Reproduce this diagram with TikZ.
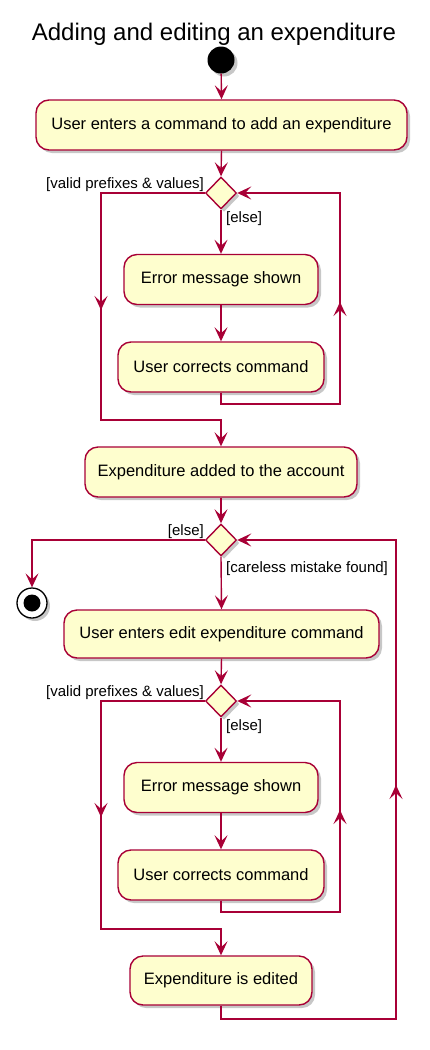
\documentclass[tikz,border=0pt]{standalone}
\usepackage{fontspec}
\setmainfont{Liberation Sans}
\usetikzlibrary{arrows.meta,shapes.geometric,shadows}
\definecolor{pumlred}{HTML}{A80036}
\definecolor{pumlfill}{HTML}{FEFECE}
\tikzset{
  shad/.style={drop shadow={shadow xshift=3pt,shadow yshift=-3pt,opacity=0.22,fill=black}},
  act/.style={draw=pumlred,fill=pumlfill,line width=1.4pt,rounded corners=13pt,
    minimum height=50pt,inner sep=0pt,font=\fontsize{16.5}{19}\selectfont,shad},
  dec/.style={diamond,draw=pumlred,fill=pumlfill,line width=1.4pt,minimum width=31pt,
    minimum height=32pt,inner sep=0pt,shad},
  tip/.style={-{Stealth[length=14pt,width=13pt,inset=6pt]}},
  flow/.style={draw=pumlred,line width=1.4pt,tip},
  lbl/.style={font=\fontsize{15}{17}\selectfont,inner sep=0pt},
}
\begin{document}
\begin{tikzpicture}[x=1pt,y=-1pt]
\useasboundingbox (0,0) rectangle (429,1050);
\node[font=\fontsize{24}{28}\selectfont,anchor=base,inner sep=0pt] (title) at (214,40) {Adding and editing an expenditure};
\node[circle,fill=black,minimum size=27pt,inner sep=0pt,shad] (start) at (221,60) {};
\node[act,minimum width=371pt] (b1) at (221.5,125) {User enters a command to add an expenditure};
\node[dec] (d1) at (221,193) {};
\node[act,minimum width=194pt] (b2) at (221,279.5) {Error message shown};
\node[act,minimum width=206pt] (b3) at (221,367) {User corrects command};
\node[act,minimum width=272pt] (b4) at (221,472) {Expenditure added to the account};
\node[dec] (d2) at (221,540) {};
\node[circle,draw=black,fill=white,line width=1.3pt,minimum size=30pt,inner sep=0pt,shad] (stop) at (32,603) {};
\node[circle,fill=black,minimum size=17pt,inner sep=0pt] (stopin) at (stop.center) {};
\node[act,minimum width=315pt,minimum height=48pt] (b5) at (221.5,634) {User enters edit expenditure command};
\node[dec] (d3) at (221,701) {};
\node[act,minimum width=194pt] (b6) at (221,787.5) {Error message shown};
\node[act,minimum width=206pt] (b7) at (221,875) {User corrects command};
\node[act,minimum width=182pt,minimum height=49pt] (b8) at (221,980.5) {Expenditure is edited};

\node[lbl,anchor=base east] (l1) at (204,188) {[valid prefixes \& values]};
\node[lbl,anchor=base west] (l2) at (226,222) {[else]};
\node[lbl,anchor=base east] (l3) at (204,535) {[else]};
\node[lbl,anchor=base west] (l4) at (226,572) {[careless mistake found]};
\node[lbl,anchor=base east] (l5) at (204,696) {[valid prefixes \& values]};
\node[lbl,anchor=base west] (l6) at (226,730) {[else]};

\coordinate (L1a) at (101,193);
\coordinate (L1b) at (101,420);
\coordinate (R1b) at (340,404);
\coordinate (R1c) at (340,193);
\coordinate (L2a) at (101,701);
\coordinate (L2b) at (101,929);
\coordinate (R2b) at (340,912);
\coordinate (R2c) at (340,701);
\coordinate (B1) at (396,1019);
\coordinate (B2) at (396,540);
% mid-line arrow positions
\coordinate (m1s) at (101,294); \coordinate (m1e) at (101,310);
\coordinate (m2s) at (340,318); \coordinate (m2e) at (340,302);
\coordinate (m3s) at (101,801); \coordinate (m3e) at (101,817);
\coordinate (m4s) at (340,826); \coordinate (m4e) at (340,810);
\coordinate (m5s) at (396,801); \coordinate (m5e) at (396,785);

\draw[flow] (start) -- (b1.north);
\draw[flow] (b1.south) -- (d1.north);
\draw[flow] (d1.west) -- (L1a) -- (L1b) -| (b4.north);
\draw[flow] (d1.south) -- (b2.north);
\draw[flow] (b2.south) -- (b3.north);
\draw[flow] (b3.south) |- (R1b) -- (R1c) -- (d1.east);
\draw[flow] (b4.south) -- (d2.north);
\draw[flow] (d2.west) -| (stop.north);
\draw[flow] (d2.south) -- (b5.north);
\draw[flow] (b5.south) -- (d3.north);
\draw[flow] (d3.west) -- (L2a) -- (L2b) -| (b8.north);
\draw[flow] (d3.south) -- (b6.north);
\draw[flow] (b6.south) -- (b7.north);
\draw[flow] (b7.south) |- (R2b) -- (R2c) -- (d3.east);
\draw[flow] (b8.south) |- (B1) -- (B2) -- (d2.east);

\draw[flow] (m1s) -- (m1e);
\draw[flow] (m2s) -- (m2e);
\draw[flow] (m3s) -- (m3e);
\draw[flow] (m4s) -- (m4e);
\draw[flow] (m5s) -- (m5e);
\end{tikzpicture}
\end{document}
